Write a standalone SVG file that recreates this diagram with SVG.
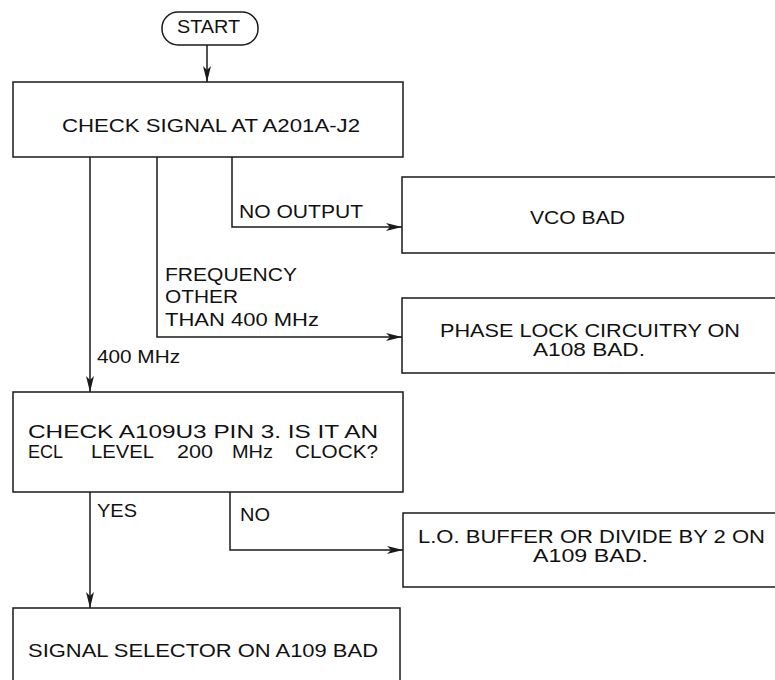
<svg xmlns="http://www.w3.org/2000/svg" width="775" height="680" viewBox="0 0 775 680">
<style>
.box{fill:#fff;stroke:#1a1a1a;stroke-width:1.5}
.ln{fill:none;stroke:#1a1a1a;stroke-width:1.5}
.t{font-family:"Liberation Sans",Arial,sans-serif;font-size:19px;fill:#111}
</style>
<defs>
<marker id="ah" viewBox="0 0 16 8" refX="16" refY="4" markerWidth="16" markerHeight="8" markerUnits="userSpaceOnUse" orient="auto">
<path d="M0,0 L16,4 L0,8 L4,4 Z" fill="#1a1a1a"/>
</marker>
</defs>
<rect width="775" height="680" fill="#fff"/>
<g id="connectors">
<path class="ln" d="M207,45 V82" marker-end="url(#ah)"/>
<path class="ln" d="M232,157 V227 H402" marker-end="url(#ah)"/>
<path class="ln" d="M157,157 V337 H402" marker-end="url(#ah)"/>
<path class="ln" d="M90,157 V392" marker-end="url(#ah)"/>
<path class="ln" d="M90,492 V608" marker-end="url(#ah)"/>
<path class="ln" d="M230,492 V550 H403" marker-end="url(#ah)"/>
<text class="t" x="239" y="218" textLength="124" lengthAdjust="spacingAndGlyphs">NO OUTPUT</text>
<text class="t" x="165" y="281" textLength="132" lengthAdjust="spacingAndGlyphs">FREQUENCY</text>
<text class="t" x="165" y="303" textLength="73" lengthAdjust="spacingAndGlyphs">OTHER</text>
<text class="t" x="165" y="326" textLength="154" lengthAdjust="spacingAndGlyphs">THAN 400 MHz</text>
<text class="t" x="97" y="363" textLength="83" lengthAdjust="spacingAndGlyphs">400 MHz</text>
<text class="t" x="97" y="517" textLength="40" lengthAdjust="spacingAndGlyphs">YES</text>
<text class="t" x="240" y="521" textLength="30" lengthAdjust="spacingAndGlyphs">NO</text>
</g>
<g id="start">
<rect class="box" x="162" y="12" width="96" height="33" rx="16" ry="16"/>
<text class="t" x="177" y="33" textLength="63" lengthAdjust="spacingAndGlyphs">START</text>
</g>
<g id="check-signal">
<rect class="box" x="13" y="82" width="390" height="75"/>
<text class="t" x="62" y="132" textLength="298" lengthAdjust="spacingAndGlyphs">CHECK SIGNAL AT A201A-J2</text>
</g>
<g id="vco-bad">
<rect class="box" x="402" y="177" width="390" height="76"/>
<text class="t" x="530" y="224" textLength="95" lengthAdjust="spacingAndGlyphs">VCO BAD</text>
</g>
<g id="phase-lock">
<rect class="box" x="402" y="298" width="390" height="75"/>
<text class="t" x="440" y="337" textLength="300" lengthAdjust="spacingAndGlyphs">PHASE LOCK CIRCUITRY ON</text>
<text class="t" x="533" y="356" textLength="112" lengthAdjust="spacingAndGlyphs">A108 BAD.</text>
</g>
<g id="check-a109u3">
<rect class="box" x="13" y="392" width="390" height="100"/>
<text class="t" x="28" y="438" textLength="350" lengthAdjust="spacingAndGlyphs">CHECK A109U3 PIN 3. IS IT AN</text>
<text class="t" x="28" y="458" textLength="35" lengthAdjust="spacingAndGlyphs">ECL</text>
<text class="t" x="91" y="458" textLength="63" lengthAdjust="spacingAndGlyphs">LEVEL</text>
<text class="t" x="177" y="458" textLength="36" lengthAdjust="spacingAndGlyphs">200</text>
<text class="t" x="232" y="458" textLength="41" lengthAdjust="spacingAndGlyphs">MHz</text>
<text class="t" x="295" y="458" textLength="83" lengthAdjust="spacingAndGlyphs">CLOCK?</text>
</g>
<g id="lo-buffer">
<rect class="box" x="403" y="513" width="390" height="74"/>
<text class="t" x="418" y="543" textLength="347" lengthAdjust="spacingAndGlyphs">L.O. BUFFER OR DIVIDE BY 2 ON</text>
<text class="t" x="533" y="562" textLength="115" lengthAdjust="spacingAndGlyphs">A109 BAD.</text>
</g>
<g id="signal-selector">
<rect class="box" x="13" y="608" width="387" height="90"/>
<text class="t" x="28" y="657" textLength="350" lengthAdjust="spacingAndGlyphs">SIGNAL SELECTOR ON A109 BAD</text>
</g>
</svg>
